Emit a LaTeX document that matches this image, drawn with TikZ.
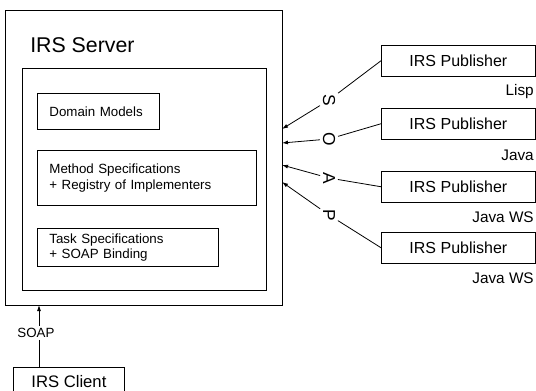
\documentclass[tikz,border=0pt]{standalone}
\usepackage{fontspec}
\setmainfont{Liberation Sans}
\usetikzlibrary{arrows.meta}
\begin{document}
\begin{tikzpicture}[x=0.75pt,y=-0.75pt,
  box/.style={draw, line width=0.6pt, inner sep=0pt, anchor=north west},
  inbox/.style={box, align=left, inner xsep=9pt, font=\fontsize{10}{11.5}\selectfont},
  pub/.style={box, font=\fontsize{12}{14}\selectfont, minimum width=115.5pt, minimum height=23pt},
  lab/.style={anchor=east, inner sep=0pt, font=\fontsize{11.5}{14}\selectfont},
  let/.style={rotate=-90, inner sep=2pt, font=\fontsize{13}{15}\selectfont},
  arr/.style={-{Latex[length=4.5pt,width=3pt]}, line width=0.6pt},
  ln/.style={line width=0.6pt}]
\useasboundingbox (0,0) rectangle (536,390);
\clip (0,0) rectangle (536,390);
% server
\node[box, line width=0.8pt, minimum width=207.75pt, minimum height=221.25pt] (server) at (5,10) {};
\node[anchor=base west, inner sep=0pt, font=\fontsize{16}{19}\selectfont] (title) at (30,52) {IRS Server};
\node[box, minimum width=183pt, minimum height=166.5pt] (inner) at (22,68) {};
\node[inbox, text width=73.5pt, minimum height=27pt] (dm) at (37,93) {Domain Models};
\node[inbox, text width=146.25pt, minimum height=41.25pt] (ms) at (37,150) {Method Specifications\\+ Registry of Implementers};
\node[inbox, text width=117.75pt, minimum height=28.5pt] (ts) at (37,228) {Task Specifications\\+ SOAP Binding};
% publishers
\node[pub] (p1) at (381,45) {IRS Publisher};
\node[pub] (p2) at (381,108) {IRS Publisher};
\node[pub] (p3) at (381,171) {IRS Publisher};
\node[pub] (p4) at (381,232) {IRS Publisher};
\node[lab] (l1) at (534,92) {Lisp};
\node[lab] (l2) at (534,155) {Java};
\node[lab] (l3) at (534,217) {Java WS};
\node[lab] (l4) at (534,278) {Java WS};
% SOAP letters
\node[let] (S) at (329,100) {S};
\node[let] (O) at (329,139) {O};
\node[let] (A) at (329,178) {A};
\node[let] (P) at (329,215) {P};
\coordinate (t1) at (282,129);
\coordinate (t2) at (282,143);
\coordinate (t3) at (282,165);
\coordinate (t4) at (282,182);
\draw[ln] (p1.west) -- (S);
\draw[arr] (S) -- (t1);
\draw[ln] (p2.west) -- (O);
\draw[arr] (O) -- (t2);
\draw[ln] (p3.west) -- (A);
\draw[arr] (A) -- (t3);
\draw[ln] (p4.west) -- (P);
\draw[arr] (P) -- (t4);
% client
\node[inner sep=1.5pt, font=\fontsize{10}{12}\selectfont] (soap) at (36,333) {SOAP};
\node[box, minimum width=83.25pt, minimum height=21pt, font=\fontsize{12.5}{14}\selectfont] (client) at (13,367) {IRS Client};
\coordinate (sb) at (39,305);
\draw[arr] (soap.north -| sb) -- (sb);
\draw[ln] (soap.south -| sb) -- (client.north -| sb);
\end{tikzpicture}
\end{document}
